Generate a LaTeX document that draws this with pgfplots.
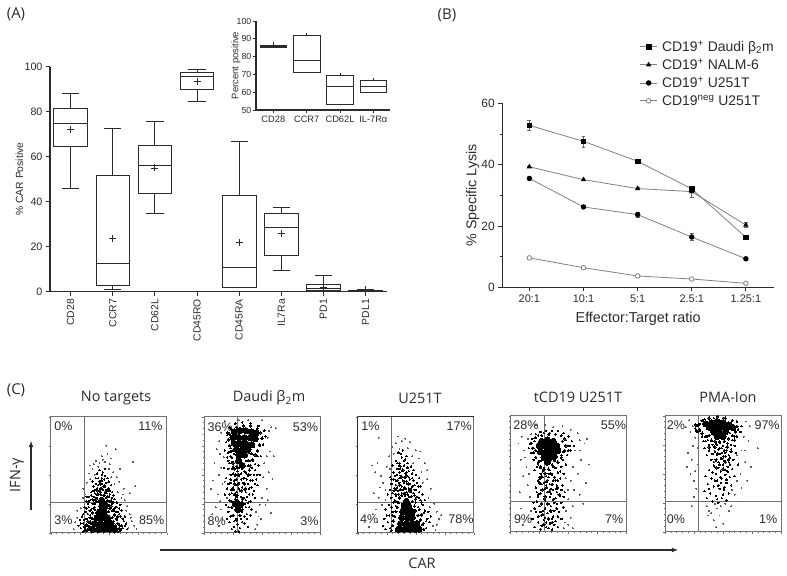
\documentclass[border=0pt]{standalone}
\usepackage{pgfplots}
\usepackage{fontspec}
\pgfplotsset{compat=1.18}
\usepgfplotslibrary{statistics}
\setmainfont{Liberation Sans}
\newfontfamily\my{Open Sans}
\definecolor{ink}{HTML}{2B2B2B}
\definecolor{gate}{HTML}{707070}
\newcommand{\fs}[1]{\fontsize{#1}{#1}\selectfont}
\tikzset{pct/.style={font=\fs{12.6},text=ink,inner sep=0pt}}
\pgfplotsset{
 /pgf/number format/assume math mode=true,
 base/.style={scale only axis,anchor=south west,clip=false,axis x line*=bottom,axis y line*=left,
  axis line style={-,draw=ink,line width=1.3bp},tick style={draw=ink,line width=0.9bp},tick align=outside,
  major tick length=4bp,minor tick length=2.5bp,
  every tick label/.append style={text=ink},label style={text=ink}},
 box/.style={boxplot prepared={#1},draw=ink,line width=0.8bp,solid,mark=none},
 flow/.style={scale only axis,anchor=south west,clip=false,xmin=0,xmax=100,ymin=0,ymax=100,width=116bp,height=116bp,
  axis line style={draw=gate,line width=0.7bp},xticklabels={},yticklabels={},
  xtick={0,25,50,75,100},ytick={0,25,50,75,100},
  minor xtick={5,10,15,20,30,35,40,45,55,60,65,70,80,85,90,95},
  minor ytick={5,10,15,20,30,35,40,45,55,60,65,70,80,85,90,95},
  tick style={draw=gate,line width=0.3bp},tick align=outside,major tick length=1.8bp,minor tick length=0.9bp,
  xtick pos=bottom,ytick pos=left},
 dense/.style={only marks,mark=*,mark size=1.15,mark options={draw=black,fill=black,line width=0}},
 core/.style={only marks,mark=*,mark size=3.1,mark options={draw=black,fill=black,line width=0}},
 mid/.style={only marks,mark=*,mark size=0.7,mark options={draw=black,fill=black,line width=0}},
 spr/.style={only marks,mark=*,mark size=0.42,mark options={draw=black!65,fill=black!65,line width=0}},
 gl/.style={draw=gate,line width=0.8bp,mark=none},
}
\begin{document}
\begin{tikzpicture}[x=1bp,y=1bp]
\useasboundingbox (0,-576) rectangle (787,0);

% ---------- A main
\begin{axis}[base,at={(50bp,-291.7bp)},width=337bp,height=225bp,xmin=-0.49,xmax=7.51,ymin=0,ymax=100,
 xtick={0,1,2,3,4,5,6,7},xticklabels={CD28,CCR7,CD62L,CD45RO,CD45RA,IL7Ra,PD1,PDL1},
 ytick={0,20,40,60,80,100},ylabel={\% CAR Positive},
 xticklabel style={rotate=90,anchor=east,font=\fs{10.4}},yticklabel style={font=\fs{10.8}},
 ylabel style={font=\fs{10.4},at={(axis description cs:-0.069,0.5)}},
 boxplot/draw direction=y,boxplot/box extend=0.8,boxplot/whisker extend=0.41,
 boxplot/every average/.style={/tikz/mark=+,/tikz/mark size=3.5,/tikz/mark options={draw=ink,line width=0.8bp}}]
\addplot[box={draw position=0,lower whisker=46,lower quartile=64.7,median=74.8,upper quartile=81.5,upper whisker=88.1,average=72}] coordinates {};
\addplot[box={draw position=1,lower whisker=1,lower quartile=3,median=12.6,upper quartile=51.9,upper whisker=72.6,average=23.7}] coordinates {};
\addplot[box={draw position=2,lower whisker=35,lower quartile=43.7,median=56.1,upper quartile=65.2,upper whisker=75.5,average=55}] coordinates {};
\addplot[box={draw position=3,lower whisker=84.7,lower quartile=89.8,median=95.9,upper quartile=97.3,upper whisker=98.8,average=93.6}] coordinates {};
\addplot[box={draw position=4,lower whisker=1.9,lower quartile=2,median=10.7,upper quartile=42.7,upper whisker=66.8,average=22}] coordinates {};
\addplot[box={draw position=5,lower whisker=9.3,lower quartile=16.3,median=28.6,upper quartile=35,upper whisker=37.6,average=26}] coordinates {};
\addplot[box={draw position=6,lower whisker=0.2,lower quartile=0.5,median=1.5,upper quartile=3.4,upper whisker=7.1,average=2}] coordinates {};
\addplot[box={draw position=7,lower whisker=0.1,lower quartile=0.3,median=0.5,upper quartile=0.7,upper whisker=0.9,average=1}] coordinates {};
\end{axis}

% ---------- A inset
\begin{axis}[base,at={(256bp,-110bp)},width=134bp,height=89bp,xmin=-0.52,xmax=3.5,ymin=50,ymax=100,
 xtick={0,1,2,3},xticklabels={CD28,CCR7,CD62L,IL-7Rα},ytick={50,60,70,80,90,100},ylabel={Percent positive},
 major tick length=3bp,
 xticklabel style={font=\fs{9.3}},yticklabel style={font=\fs{8.8},inner sep=1.5pt},
 ylabel style={font=\fs{9.5},at={(axis description cs:-0.09,0.5)}},
 boxplot/draw direction=y,boxplot/box extend=0.8,boxplot/whisker extend=0]
\addplot[box={draw position=0,lower whisker=85,lower quartile=85,median=85.6,upper quartile=86.5,upper whisker=88}] coordinates {};
\addplot[box={draw position=1,lower whisker=71,lower quartile=71,median=78.1,upper quartile=92.1,upper whisker=93.4}] coordinates {};
\addplot[box={draw position=2,lower whisker=53.4,lower quartile=53.4,median=63.5,upper quartile=69.5,upper whisker=71}] coordinates {};
\addplot[box={draw position=3,lower whisker=59.9,lower quartile=59.9,median=63.4,upper quartile=66.9,upper whisker=68}] coordinates {};
\end{axis}

% ---------- B
\begin{axis}[base,at={(502.3bp,-287.3bp)},width=271.7bp,height=184bp,xmin=-0.5,xmax=4.52,ymin=0,ymax=60,
 xtick={0,1,2,3,4},xticklabels={20:1,10:1,5:1,2.5:1,1.25:1},ytick={0,20,40,60},minor ytick={10,30,50},
 xlabel={Effector:Target ratio},ylabel={\% Specific Lysis},
 xticklabel style={font=\fs{11}},yticklabel style={font=\fs{12}},
 xlabel style={font=\fs{14.4},at={(axis description cs:0.5,-0.115)}},
 ylabel style={font=\fs{14.3},at={(axis description cs:-0.072,0.5)}},
 legend cell align=left,
 legend style={at={(0.505,1.35)},anchor=north west,draw=none,fill=none,font=\fs{14},text=ink,row sep=3bp,inner sep=0pt,
  nodes={inner ysep=1.4bp,inner xsep=4.5bp}}]
\pgfplotsset{ln/.style={draw=black!50,line width=0.8bp,mark options={solid}},
 eb/.style={error bars/.cd,y dir=both,y explicit,error bar style={draw=black!60,line width=0.5bp},error mark options={rotate=90,mark size=2,draw=black!60,line width=0.5bp}}}
\addplot[ln,mark=square*,mark size=2.3,mark options={fill=black,draw=black},eb] coordinates {(0,52.8)+-(0,1.6) (1,47.6)+-(0,1.8) (2,41.1)+-(0,0.5) (3,32.1)+-(0,1) (4,16.3)+-(0,0.5)};
\addlegendentry{CD19\textsuperscript{+} Daudi β\textsubscript{2}m}
\addplot[ln,mark=triangle*,mark size=2.3,mark options={fill=black,draw=black},eb] coordinates {(0,39.3)+-(0,0.3) (1,35.1)+-(0,0.3) (2,32.2)+-(0,0.3) (3,31.2)+-(0,1.8) (4,20.3)+-(0,0.8)};
\addlegendentry{CD19\textsuperscript{+} NALM-6}
\addplot[ln,mark=*,mark size=2.3,mark options={fill=black,draw=black},eb] coordinates {(0,35.5)+-(0,0.4) (1,26.2)+-(0,0.5) (2,23.7)+-(0,0.8) (3,16.4)+-(0,1.2) (4,9.3)+-(0,0.3)};
\addlegendentry{CD19\textsuperscript{+} U251T}
\addplot[ln,mark=*,mark size=2.3,mark options={fill=white,draw=black!50}] coordinates {(0,9.6) (1,6.4) (2,3.7) (3,2.7) (4,1.3)};
\addlegendentry{CD19\textsuperscript{neg} U251T}
\end{axis}

% ---------- C1 No targets
\begin{axis}[flow,at={(50.7bp,-532.7bp)}]
\addplot[spr] coordinates {(38,50)(34,46)(52,48)(55,42)(58,35)(61,30)(66,23)(68,16)(70,10)(72,6)(23,19)(21,9)(20,3)(30,33)(28,30)(25,26)(31,43)(36,55)(50,55)(54,52)(42,60)(39,62)(47,61)(44,66)(49,68)(56,72)(48,75)(52,64)(71,61)(59,44)(63,38)(68,34)(73,40)(60,55)(34,58)(28,38)(67,4)(74,3)(37,59)(45,63)(33,51)(57,48)(62,33)(65,19)(41,57)(51,59)(26,21)(23,13)(69,13)(64,28)};
\addplot[mid] coordinates {(30,3)(28,8)(31,12)(33,6)(34,15)(35,20)(30,18)(27,14)(26,4)(24,6)(29,22)(32,25)(34,28)(36,25)(37,31)(39,27)(38,34)(41,33)(43,35)(40,38)(45,37)(47,40)(44,42)(42,44)(46,46)(49,36)(51,33)(53,30)(50,38)(48,30)(54,26)(56,22)(58,18)(55,16)(57,11)(59,7)(60,14)(62,4)(61,19)(63,10)(56,3)(58,1)(53,35)(52,28)(35,35)(37,40)(33,31)(31,27)(39,42)(41,47)(47,49)(44,50)(50,44)(52,41)(36,17)(34,10)(32,2)(55,29)(57,26)(60,24)(38,22)(39,17)(50,24)(53,19)(54,10)(28,1)(25,11)(65,8)(64,14)(66,3)(40,30)(46,33)(43,38)(49,28)(35,5)(31,7)(29,5)(59,21)(36,44)(48,43)(45,52)(42,54)(40,51)(47,55)(44,47)(33,22)(31,21)(28,16)(26,8)(29,11)(32,16)(36,29)(35,32)(38,37)(41,41)(46,41)(48,37)(51,36)(54,32)(57,22)(59,16)(62,12)(60,3)(64,6)(53,25)(56,18)(43,44)(39,47)(49,47)(37,36)(42,36)(48,34)(50,31)(33,27)(31,31)};
\addplot[dense] coordinates {(30,2)(31,6)(32,10)(33,4)(34,13)(35,8)(36,17)(37,21)(38,25)(39,29)(40,33)(42,36)(44,38)(47,35)(49,31)(51,27)(52,23)(54,19)(55,15)(57,12)(58,8)(59,4)(60,2)(56,6)(53,13)(50,18)(51,21)(36,12)(38,20)(41,27)(46,32)(48,27)(43,33)(33,9)(29,5)(34,19)(40,36)(46,40)(43,42)(49,37)(55,21)(58,14)(61,6)(37,28)(53,26)(44,45)};
\addplot[core] coordinates {(36,3)(41,3)(46,3)(51,3)(55,3)(38,8)(43,8)(48,8)(52,8)(40,13)(45,13)(49,13)(42,18)(46,18)(44,23)(47,23)(44,28)};
\addplot[gl] coordinates {(29,0)(29,100)};
\addplot[gl] coordinates {(0,26)(100,26)};
\node[pct] at (axis cs:11,92) {0\%};\node[pct] at (axis cs:86,92) {11\%};
\node[pct] at (axis cs:11,11) {3\%};\node[pct] at (axis cs:87,11) {85\%};
\end{axis}

% ---------- C2 Daudi
\begin{axis}[flow,at={(204bp,-532.7bp)}]
\addplot[spr] coordinates {(11,72)(9,60)(13,50)(8,45)(12,33)(6,38)(10,22)(14,27)(7,16)(16,12)(13,6)(58,91)(55,82)(57,70)(60,66)(52,60)(56,52)(59,46)(54,38)(50,30)(53,24)(58,17)(49,12)(46,7)(44,3)(15,86)(13,79)(18,96)(38,97)(50,97)(62,90)(17,65)(15,56)(18,44)(20,30)(55,28)(62,26)(30,97)(47,14)(14,68)(16,42)(15,20)(45,18)(48,24)(51,48)(54,66)(56,88)};
\addplot[mid] coordinates {(20,65)(24,61)(28,57)(33,55)(38,58)(42,62)(46,66)(21,55)(25,51)(30,49)(35,47)(40,50)(44,54)(47,58)(19,47)(23,43)(28,41)(33,39)(38,42)(42,45)(48,50)(20,38)(24,34)(29,32)(34,30)(39,33)(43,36)(46,41)(22,28)(32,25)(36,22)(40,27)(44,30)(19,24)(37,16)(41,20)(20,12)(22,9)(32,12)(35,8)(38,5)(31,4)(24,3)(27,1)(29,7)(26,10)(33,18)(21,18)(18,33)(17,56)(18,71)(19,78)(20,84)(22,91)(27,94)(33,95)(40,94)(47,92)(52,88)(50,82)(48,75)(46,70)(43,74)(23,73)(39,69)(26,68)(31,62)(36,62)(41,56)(26,45)(31,36)(26,37)(36,35)(41,39)(35,53)(30,43)(24,55)(27,29)(37,46)(23,50)(29,53)(34,43)(22,60)(46,50)(45,46)(33,27)(36,28)(28,35)(40,45)(39,22)(21,62)(25,57)(27,49)(32,46)(38,49)(43,50)(21,42)(25,39)(30,38)(35,37)(39,38)(44,42)(22,33)(27,33)(32,31)(37,31)(42,33)(21,22)(35,25)(38,26)(23,14)(28,12)(33,9)(26,5)(30,1)(35,14)(40,15)(37,12)(49,66)(51,76)(53,83)(24,77)(21,69)(23,66)(44,59)(40,62)(28,61)(35,58)(30,56)(32,51)};
\addplot[dense] coordinates {(20,86)(21,80)(22,75)(23,70)(24,65)(25,60)(26,55)(27,50)(28,46)(38,50)(39,54)(40,58)(42,63)(44,67)(46,71)(48,76)(50,81)(49,86)(46,90)(40,92)(34,92)(28,91)(23,90)(29,56)(36,52)(34,47)(30,42)(26,42)(35,42)(24,37)(32,36)(36,38)(28,31)(22,28)(33,29)(24,22)(33,20)(31,15)(25,15)(28,11)(23,46)(38,62)(41,68)(25,71)(22,85)(30,50)(24,27)(33,24)(29,28)(26,33)};
\addplot[core] coordinates {(26,87)(31,88)(36,88)(41,87)(45,86)(25,82)(30,82)(35,82)(40,82)(44,81)(26,77)(31,77)(36,77)(41,76)(28,72)(33,72)(38,72)(30,67)(35,67)(30,62)(33,58)(27,25)(31,24)(29,20)};
\addplot[gl] coordinates {(29,0)(29,100)};
\addplot[gl] coordinates {(0,26)(100,26)};
\node[pct] at (axis cs:14,91) {36\%};\node[pct] at (axis cs:87.5,91) {53\%};
\node[pct] at (axis cs:11,10) {8\%};\node[pct] at (axis cs:91,10) {3\%};
\end{axis}

% ---------- C3 U251T
\begin{axis}[flow,at={(357.7bp,-532.7bp)}]
\addplot[spr] coordinates {(18,82)(17,60)(12,58)(15,52)(20,49)(22,43)(14,34)(18,30)(24,28)(13,16)(17,9)(10,5)(35,83)(41,81)(38,79)(45,78)(50,71)(53,64)(58,60)(55,52)(60,46)(63,38)(61,30)(66,25)(68,18)(70,12)(65,6)(67,2)(30,74)(27,66)(36,72)(43,73)(47,66)(25,57)(31,68)(56,43)(24,37)(72,15)(48,60)(19,39)(21,24)(16,20)(60,54)(54,70)(62,22)(68,7)(33,77)(28,55)};
\addplot[mid] coordinates {(28,4)(26,9)(25,15)(24,20)(27,24)(30,18)(31,26)(29,30)(33,32)(36,30)(38,34)(41,32)(44,31)(48,34)(51,31)(54,28)(56,24)(58,19)(55,15)(57,8)(60,12)(59,4)(62,9)(31,36)(34,39)(37,41)(40,39)(44,38)(47,40)(50,37)(53,35)(29,42)(33,45)(36,47)(39,45)(42,44)(45,46)(48,45)(51,43)(31,52)(34,55)(38,53)(41,51)(44,53)(47,51)(36,60)(40,58)(43,60)(33,62)(46,57)(38,65)(42,66)(35,69)(39,71)(28,48)(30,58)(26,33)(50,50)(53,47)(23,12)(22,6)(33,23)(50,26)(52,22)(35,36)(43,42)(49,41)(37,49)(41,47)(34,50)(28,37)(56,33)(58,28)(31,46)(44,48)(40,62)(36,55)(52,40)(46,35)(24,3)(61,18)(63,14)(33,41)(47,47)(30,34)(32,28)(35,33)(39,37)(42,35)(46,38)(49,32)(53,30)(55,26)(27,15)(30,10)(29,22)(59,10)(57,17)(33,37)(36,43)(40,43)(45,42)(49,37)(32,49)(36,52)(40,48)(43,56)(37,57)(34,60)(42,52)(29,46)(48,54)(54,40)(38,40)(41,63)(37,68)};
\addplot[dense] coordinates {(29,2)(30,6)(31,10)(32,14)(33,18)(34,22)(35,26)(36,30)(38,32)(40,34)(43,33)(46,31)(47,27)(49,23)(50,19)(52,15)(54,11)(56,7)(57,3)(33,33)(37,37)(41,38)(45,36)(36,41)(40,44)(44,42)(34,45)(38,48)(42,49)(33,27)(50,29)(32,38)(47,40)(39,54)(43,56)(36,58)(53,20)(30,15)(55,16)(29,22)};
\addplot[core] coordinates {(35,3)(40,3)(45,3)(50,3)(53,3)(37,8)(42,8)(47,8)(51,8)(38,13)(43,13)(47,13)(39,18)(43,18)(47,18)(40,23)(44,23)(42,27)};
\addplot[gl] coordinates {(29,0)(29,100)};
\addplot[gl] coordinates {(0,26)(100,26)};
\addplot[draw=ink,line width=1.4bp,mark=none] coordinates {(0,100)(100,100)};
\addplot[draw=ink,line width=1.4bp,mark=none] coordinates {(0,0)(0,100)};
\node[pct] at (axis cs:11,92) {1\%};\node[pct] at (axis cs:87.5,92) {17\%};
\node[pct] at (axis cs:10,11.5) {4\%};\node[pct] at (axis cs:89,11.5) {78\%};
\end{axis}

% ---------- C4 tCD19
\begin{axis}[flow,at={(510.3bp,-531.7bp)}]
\addplot[spr] coordinates {(10,82)(7,76)(12,70)(9,62)(14,56)(11,48)(15,40)(8,34)(13,26)(9,20)(14,12)(11,6)(52,88)(58,85)(60,79)(64,76)(66,80)(56,70)(61,62)(54,56)(58,50)(52,44)(65,42)(55,36)(60,32)(50,28)(54,22)(48,18)(52,12)(50,6)(54,3)(22,92)(30,92)(37,90)(45,91)(18,84)(68,58)(63,24)(17,30)(46,3)(13,64)(16,50)(18,18)(60,70)(48,46)(50,36)(47,8)(15,80)};
\addplot[mid] coordinates {(17,76)(19,80)(22,84)(26,86)(31,87)(36,87)(41,87)(46,85)(50,82)(53,78)(55,74)(52,70)(49,66)(45,62)(41,60)(36,58)(31,59)(26,61)(22,64)(18,68)(16,72)(24,58)(29,55)(34,53)(39,55)(44,56)(48,58)(21,53)(26,50)(31,48)(36,49)(41,51)(46,50)(24,44)(29,42)(34,41)(39,44)(43,46)(22,38)(27,36)(32,34)(37,36)(41,38)(45,40)(24,30)(29,28)(34,30)(39,29)(43,31)(47,34)(20,25)(25,22)(30,20)(35,22)(40,24)(44,25)(22,17)(27,14)(32,16)(37,13)(42,17)(46,21)(19,11)(24,8)(29,10)(34,7)(39,9)(44,11)(21,4)(26,2)(31,4)(36,2)(41,4)(33,24)(28,18)(38,18)(30,12)(26,33)(35,37)(31,40)(28,47)(37,44)(33,50)(41,44)(26,55)(38,61)(20,72)(21,78)(24,83)(29,85)(34,85)(39,84)(44,83)(48,79)(51,74)(47,70)(44,66)(20,62)(23,56)(28,52)(33,47)(38,47)(43,52)(25,47)(30,37)(35,33)(40,34)(23,26)(26,17)(31,8)(36,11)(41,13)(35,17)(30,27)(38,25)(27,41)(32,44)(40,40)(23,34)(46,30)(44,36)(27,5)(33,3)(38,6)};
\addplot[dense] coordinates {(18,76)(19,72)(20,68)(22,64)(24,60)(26,56)(29,54)(33,54)(37,56)(41,60)(44,64)(46,69)(48,74)(47,80)(44,83)(39,84)(33,84)(27,83)(22,81)(30,50)(35,50)(27,48)(38,47)(31,43)(25,42)(36,41)(28,36)(34,35)(40,37)(24,32)(30,30)(37,28)(32,24)(27,24)(35,18)(28,15)(33,11)(29,6)(36,8)(24,13)(42,32)(22,70)(45,78)(50,70)(26,46)(31,38)(21,20)(40,20)};
\addplot[core] coordinates {(27,78)(32,79)(37,78)(25,74)(30,74)(35,74)(40,74)(26,69)(31,69)(36,69)(41,70)(29,64)(34,64)(38,65)(32,60)};
\addplot[gl] coordinates {(29,0)(29,100)};
\addplot[gl] coordinates {(0,26)(100,26)};
\addplot[draw=gate,line width=1.1bp,mark=none] coordinates {(0,0)(0,100)};
\node[pct] at (axis cs:13.5,92) {28\%};\node[pct] at (axis cs:89,92) {55\%};
\node[pct] at (axis cs:11,11) {9\%};\node[pct] at (axis cs:89.5,11) {7\%};
\end{axis}

% ---------- C5 PMA-Ion
\begin{axis}[flow,at={(665bp,-531.7bp)}]
\addplot[spr] coordinates {(21,96)(24,91)(22,86)(26,81)(24,74)(20,68)(23,62)(19,56)(22,50)(25,44)(27,37)(25,30)(28,26)(23,22)(70,95)(73,91)(68,82)(72,78)(66,70)(62,66)(69,60)(74,56)(65,50)(62,44)(66,38)(60,32)(63,26)(57,22)(52,24)(45,20)(40,16)(47,14)(42,10)(50,7)(44,4)(33,26)(36,22)(28,58)(71,44)(80,72)(37,14)(55,18)(18,90)(28,72)(26,52)(69,70)(58,36)(43,24)(38,18)(48,22)};
\addplot[mid] coordinates {(30,87)(32,82)(35,78)(38,75)(42,73)(46,71)(50,74)(54,76)(58,79)(62,82)(65,86)(66,91)(62,95)(30,93)(34,97)(42,98)(50,98)(38,70)(41,67)(45,66)(49,68)(53,70)(57,71)(60,74)(40,62)(44,61)(48,63)(52,65)(56,64)(59,62)(42,57)(46,55)(50,58)(54,56)(58,54)(38,53)(44,50)(48,52)(52,49)(56,47)(60,48)(40,46)(45,44)(49,46)(53,42)(57,40)(37,41)(42,39)(47,37)(51,36)(55,33)(39,33)(44,31)(49,29)(53,27)(36,29)(41,26)(46,25)(34,35)(35,48)(36,66)(61,68)(63,58)(34,72)(47,78)(52,82)(56,85)(60,88)(36,82)(40,78)(44,76)(50,65)(46,60)(55,60)(48,42)(43,44)(38,37)(50,32)(45,28)(52,53)(41,51)(33,78)(37,79)(41,75)(45,75)(49,72)(53,73)(57,75)(60,82)(63,88)(28,86)(27,91)(26,89)(43,69)(47,67)(52,68)(55,66)(42,60)(47,58)(51,61)(56,58)};
\addplot[dense] coordinates {(29,92)(30,88)(32,85)(35,82)(38,83)(40,79)(43,78)(47,77)(51,78)(55,80)(58,83)(61,86)(62,91)(58,96)(52,98)(45,99)(38,98)(32,96)(43,73)(47,72)(51,70)(54,73)(45,67)(49,63)(52,60)(55,62)(47,58)(50,54)(54,52)(44,55)(48,47)(53,45)(46,40)(51,38)(26,92)(27,87)(60,79)(38,73)(57,69)(44,62)};
\addplot[core] coordinates {(35,93)(40,94)(45,95)(50,94)(55,92)(38,90)(43,90)(48,90)(53,89)(58,90)(42,86)(47,86)(52,86)(45,82)(50,82)};
\addplot[gl] coordinates {(29,0)(29,100)};
\addplot[gl] coordinates {(0,26)(100,26)};
\node[pct] at (axis cs:9.5,92) {2\%};\node[pct] at (axis cs:88,92) {97\%};
\node[pct] at (axis cs:9.5,11) {0\%};\node[pct] at (axis cs:89,11) {1\%};
\end{axis}

% ---------- text, arrows
\tikzset{tt/.style={font=\my\fs{14.5},text=ink,inner sep=0pt}}
\node[tt,font=\my\fs{15}] at (16,-14) {(A)};
\node[tt,font=\my\fs{15}] at (447,-15) {(B)};
\node[tt,font=\my\fs{15}] at (16,-390) {(C)};
\node[tt] at (116,-398) {No targets};
\node[tt] at (269,-398) {Daudi β\textsubscript{2}m};
\node[tt] at (420,-398) {U251T};
\node[tt] at (578,-397) {tCD19 U251T};
\node[tt] at (728,-397) {PMA-Ion};
\node[tt,rotate=90] at (17,-475) {IFN-γ};
\node[tt] at (422,-563) {CAR};
\draw[-latex,draw=ink,line width=1.1bp] (31,-510) -- (31,-441);
\draw[-latex,draw=ink,line width=1.1bp] (160,-550) -- (678,-550);
\end{tikzpicture}
\end{document}
